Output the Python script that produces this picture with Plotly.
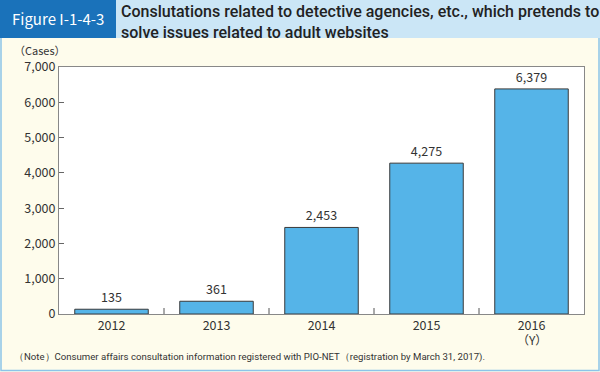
import plotly.graph_objects as go

years = ["2012", "2013", "2014", "2015", "2016"]
tick_labels = ["2012", "2013", "2014", "2015", "2016"]
x_unit = "（Y）"
cases = [135, 361, 2453, 4275, 6379]
value_labels = ["135", "361", "2,453", "4,275", "6,379"]
y_ticks = [0, 1000, 2000, 3000, 4000, 5000, 6000, 7000]
y_tick_labels = ["0", "1,000", "2,000", "3,000", "4,000", "5,000", "6,000", "7,000"]

W, H = 600, 372
L, R, T, B = 59, 16, 67, 58
PW, PH = W - L - R, H - T - B

def px(x):
    return (x - L) / PW

def py(y):
    return (H - B - y) / PH

FONT = "Noto Sans CJK JP"
TXT = "#333333"

fig = go.Figure()
fig.add_trace(go.Bar(
    x=years, y=cases, width=0.7,
    marker=dict(color="#55b4e8", line=dict(color="#3a3a3a", width=1)),
    text=value_labels, textposition="outside", cliponaxis=False,
    textfont=dict(family=FONT, size=12.5, color=TXT),
    hoverinfo="skip",
))

shapes = [
    dict(type="rect", xref="paper", yref="paper", x0=px(1), x1=px(599), y0=py(370.5), y1=py(37),
         line=dict(color="#8cc4e8", width=1.5), fillcolor="rgba(0,0,0,0)", layer="below"),
    dict(type="rect", xref="paper", yref="paper", x0=px(0), x1=px(600), y0=py(38), y1=py(0),
         line=dict(width=0), fillcolor="#cbe6f6", layer="below"),
    dict(type="rect", xref="paper", yref="paper", x0=px(0), x1=px(116), y0=py(38), y1=py(0),
         line=dict(width=0), fillcolor="#1a72ba", layer="below"),
]

n = len(years)
annotations = [
    dict(text="Figure I-1-4-3", x=px(58), y=py(19), xref="paper", yref="paper",
         xanchor="center", yanchor="middle", showarrow=False,
         font=dict(family=FONT, size=15, color="white")),
    dict(text="Conslutations related to detective agencies, etc., which pretends to<br>solve issues related to adult websites",
         x=px(119), y=py(0), xref="paper", yref="paper", xanchor="left", yanchor="top",
         align="left", showarrow=False,
         font=dict(family="Roboto", size=16, color="#222222", weight=500)),
    dict(text="（Cases）", x=px(12), y=py(50), xref="paper", yref="paper",
         xanchor="left", yanchor="middle", showarrow=False,
         font=dict(family=FONT, size=11, color=TXT)),
    dict(text=x_unit, x=(n - 0.5) / n, y=py(340), xref="paper", yref="paper",
         xanchor="center", yanchor="middle", showarrow=False,
         font=dict(family=FONT, size=12, color=TXT)),
    dict(text="（Note）Consumer affairs consultation information registered with PIO-NET（registration by March 31, 2017).",
         x=px(12), y=py(357), xref="paper", yref="paper",
         xanchor="left", yanchor="middle", showarrow=False,
         font=dict(family="Roboto", size=9.6, color=TXT)),
]

fig.update_layout(
    width=W, height=H,
    margin=dict(l=L, r=R, t=T, b=B, pad=0),
    paper_bgcolor="#fefcec", plot_bgcolor="white",
    showlegend=False, bargap=0.3,
    shapes=shapes, annotations=annotations,
    font=dict(family=FONT, color=TXT),
)
fig.update_xaxes(
    type="category", range=[-0.5, n - 0.5],
    tickmode="array", tickvals=years, ticktext=tick_labels,
    ticks="", showgrid=False, showline=True, linecolor="#888888", linewidth=1, mirror=True,
    tickfont=dict(family=FONT, size=12.5, color=TXT),
    fixedrange=True,
)
fig.update_yaxes(
    range=[0, 7000], tickvals=y_ticks, ticktext=y_tick_labels,
    ticks="inside", ticklen=5, tickcolor="#666666",
    showgrid=False, showline=True, linecolor="#888888", linewidth=1, mirror=True,
    zeroline=False, tickfont=dict(family=FONT, size=12.5, color=TXT),
    fixedrange=True,
)
for i in range(1, n):
    fig.add_shape(type="line", xref="paper", yref="paper", x0=i / n, x1=i / n, y0=0, y1=py(308),
                  line=dict(color="#555555", width=1))

fig.write_html("out.html", config={"displayModeBar": False},
               post_script="document.body.style.margin='0';document.body.style.overflow='hidden';")
